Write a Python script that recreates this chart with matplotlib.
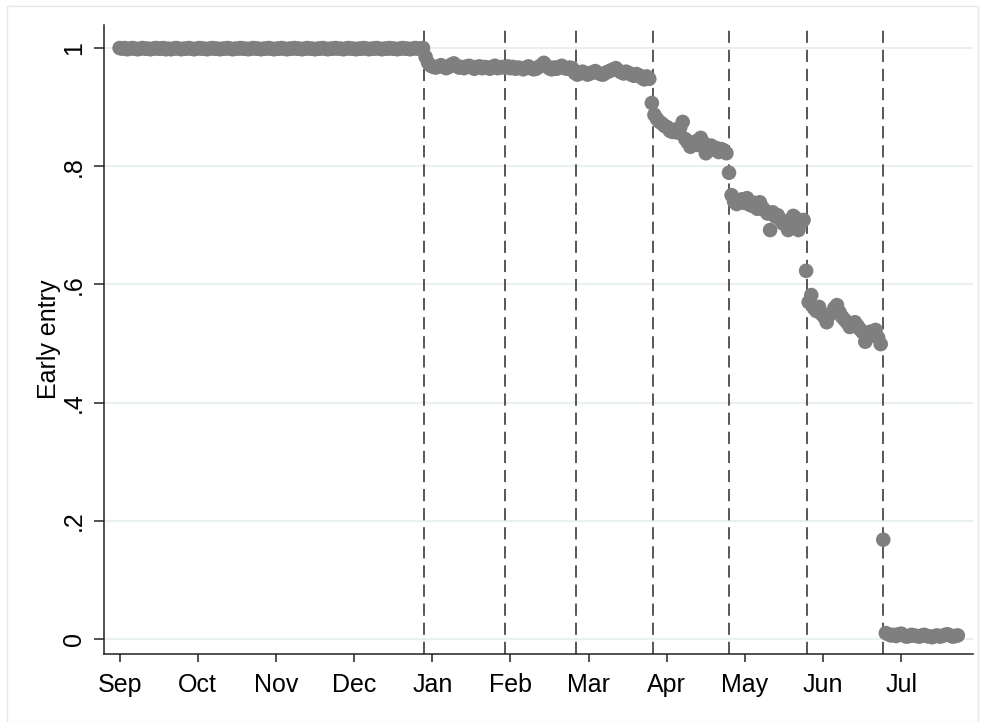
import numpy as np
import matplotlib
matplotlib.use("Agg")
import matplotlib.pyplot as plt
from matplotlib.patches import Rectangle

plt.rcParams["font.family"] = ["Liberation Sans", "DejaVu Sans"]

# share of early entry, one value per day (day 0 = 1 Sep), split at the dashed lines
sep_dec = [
    1.000, 0.999, 1.000, 0.998, 0.999, 1.000, 0.999, 0.998, 0.999, 1.000,
    0.999, 0.999, 0.998, 0.999, 1.000, 0.999, 0.999, 1.000, 0.998, 0.999,
    0.998, 0.999, 1.000, 0.999, 0.998, 0.999, 0.999, 1.000, 0.999, 0.998,
    0.999, 1.000, 0.999, 0.999, 0.998, 0.999, 1.000, 0.999, 0.999, 0.998,
    0.999, 0.999, 1.000, 0.999, 0.998, 0.999, 0.999, 1.000, 0.999, 0.999,
    0.998, 0.999, 1.000, 0.999, 0.999, 0.998, 0.999, 0.999, 1.000, 0.999,
    0.998, 0.999, 0.999, 1.000, 0.999, 0.998, 0.999, 0.999, 1.000, 0.999,
    0.999, 0.998, 0.999, 1.000, 0.999, 0.999, 0.998, 0.999, 0.999, 1.000,
    0.999, 0.998, 0.999, 0.999, 1.000, 0.999, 0.999, 0.998, 0.999, 1.000,
    0.999, 0.999, 0.998, 0.999, 0.999, 1.000, 0.999, 0.998, 0.999, 0.999,
    1.000, 0.999, 0.998, 0.999, 0.999, 1.000, 0.999, 0.999, 0.998, 0.999,
    1.000, 0.999, 0.999, 0.998, 0.999, 1.000, 0.999, 0.999, 1.000,
]
jan = [
    0.985, 0.975, 0.970, 0.968, 0.967, 0.969, 0.971, 0.968, 0.966, 0.968,
    0.972, 0.974, 0.970, 0.967, 0.968, 0.966, 0.969, 0.970, 0.967, 0.965,
    0.968, 0.969, 0.966, 0.968, 0.967, 0.965, 0.968, 0.970, 0.966, 0.967,
    0.968,
]
feb = [
    0.967, 0.969, 0.966, 0.968, 0.965, 0.967, 0.966, 0.964, 0.967, 0.969,
    0.966, 0.964, 0.965, 0.968, 0.971, 0.975, 0.970, 0.966, 0.964, 0.967,
    0.965, 0.968, 0.970, 0.966, 0.965, 0.967, 0.966,
]
mar = [
    0.958, 0.955, 0.957, 0.960, 0.958, 0.955, 0.957, 0.959, 0.961, 0.958,
    0.956, 0.955, 0.958, 0.960, 0.962, 0.964, 0.966, 0.962, 0.959, 0.957,
    0.960, 0.958, 0.955, 0.953, 0.956, 0.954, 0.950, 0.947, 0.952, 0.948,
]
apr = [
    0.907, 0.887, 0.880, 0.875, 0.872, 0.868, 0.866, 0.860, 0.858, 0.862,
    0.857, 0.865, 0.875, 0.846, 0.840, 0.833, 0.838, 0.842, 0.836, 0.848,
    0.840, 0.822, 0.830, 0.835, 0.828, 0.831, 0.824, 0.829, 0.827, 0.822,
]
may = [
    0.789, 0.751, 0.740, 0.736, 0.741, 0.744, 0.738, 0.746, 0.735, 0.733,
    0.738, 0.728, 0.739, 0.730, 0.725, 0.720, 0.692, 0.722, 0.715, 0.717,
    0.710, 0.703, 0.706, 0.692, 0.700, 0.716, 0.712, 0.692, 0.704, 0.709,
]
jun = [
    0.623, 0.570, 0.582, 0.560, 0.555, 0.562, 0.550, 0.545, 0.536, 0.548,
    0.552, 0.560, 0.565, 0.553, 0.545, 0.540, 0.535, 0.528, 0.532, 0.536,
    0.530, 0.524, 0.519, 0.503, 0.516, 0.520, 0.514, 0.523, 0.510, 0.499,
]
jul = [
    0.168, 0.010, 0.008, 0.006, 0.007, 0.005, 0.008, 0.009, 0.006, 0.004,
    0.005, 0.007, 0.006, 0.005, 0.004, 0.006, 0.007, 0.005, 0.004, 0.003,
    0.005, 0.006, 0.004, 0.005, 0.007, 0.008, 0.006, 0.004, 0.005, 0.006,
]
segments = [sep_dec, jan, feb, mar, apr, may, jun, jul]

# dashed lines (day numbers)
cutoff_days = [118.5, 150, 177.5, 207.5, 237, 267.5, 297]

month_ticks = [0, 30.4, 60.8, 91.2, 121.6, 152, 182.4, 212.8, 243.2, 273.6, 304]
month_labels = ["Sep", "Oct", "Nov", "Dec", "Jan", "Feb", "Mar",
                "Apr", "May", "Jun", "Jul"]
y_ticks = [0, 0.2, 0.4, 0.6, 0.8, 1.0]
y_labels = ["0", ".2", ".4", ".6", ".8", "1"]

values = np.concatenate(segments)
days = np.arange(len(values))

fig = plt.figure(figsize=(9.84, 7.22), dpi=100)
fig.patches.append(Rectangle((7 / 984, 0), 971 / 984, 716 / 722,
                             transform=fig.transFigure, fill=False,
                             edgecolor="#e3eaee", lw=1))
ax = fig.add_axes([104 / 984, 1 - 654 / 722, 869 / 984, 629 / 722])

for d in cutoff_days:
    ax.axvline(d, color="#2a2a2a", lw=1.1, dashes=(8, 4.5), zorder=2)
ax.scatter(days, values, s=110, color="#7f7f7f", edgecolors="none", zorder=3)

ax.set_xlim(-6.07, 331.9)
ax.set_ylim(-0.0254, 1.039)
ax.set_xticks(month_ticks)
ax.set_xticklabels(month_labels)
ax.set_yticks(y_ticks)
ax.set_yticklabels(y_labels, rotation=90, va="center")
ax.grid(axis="y", color="#e8f0f2", lw=1.5)
ax.set_axisbelow(True)

for s in ["top", "right"]:
    ax.spines[s].set_visible(False)
for s in ["left", "bottom"]:
    ax.spines[s].set_linewidth(1.1)
    ax.spines[s].set_color("#222222")
ax.tick_params(axis="both", labelsize=18, width=1.1, color="#222222")
ax.tick_params(axis="y", length=7, pad=6)
ax.tick_params(axis="x", length=6, pad=7.5)
ax.set_ylabel("Early entry", fontsize=18, labelpad=1)

fig.savefig("out.png", dpi=100)
